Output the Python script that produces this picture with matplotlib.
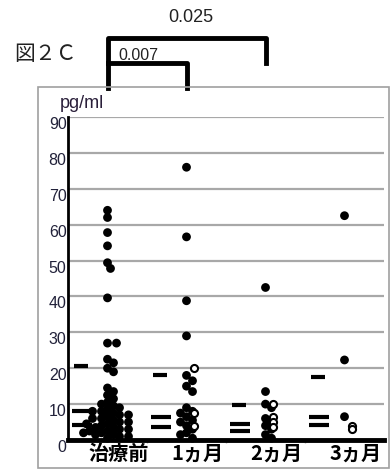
import numpy as np
import matplotlib
matplotlib.use("Agg")
import matplotlib.pyplot as plt
from matplotlib.patches import Rectangle
from matplotlib.transforms import ScaledTranslation, blended_transform_factory

plt.rcParams["font.family"] = ["Liberation Sans", "Noto Sans CJK JP", "DejaVu Sans"]

# data (pg/ml)
groups = ["治療前", "1ヵ月", "2ヵ月", "3ヵ月"]

pre_filled = [64, 62, 57.8, 54.1, 49.4, 47.8, 39.6, 27, 27, 22.5, 21.5, 20, 19,
              14.5, 13.5, 12.5, 11.5, 10.5, 10, 9.5, 9, 8.5, 8, 8, 7.5, 7, 7,
              6.5, 6, 6, 5.5, 5, 5, 4.5, 4.5, 4, 3.5, 3.5, 3, 3, 2.5, 2.5, 2, 2,
              1.5, 1.5, 1, 1, 0.5]
m1_filled = [76, 56.6, 38.8, 29, 18, 16.5, 15, 13.5, 9, 8, 7.5, 6.5, 5.5, 5,
             4, 3, 2, 1.5, 0.5]
m2_filled = [42.5, 13.5, 10, 9, 6, 5, 4, 3, 1.5, 0.5]
m3_filled = [62.5, 22.3, 6.5]

pre_open = []
m1_open = [20, 7.5, 4]
m2_open = [10, 6.5, 5, 3.5]
m3_open = [4, 3]

# horizontal bars drawn left of each group
bar_upper = [20.7, 18, 9.7, 17.6]
bar_mid = [8.2, 6.3, 4.5, 6.5]
bar_low = [4.3, 3.5, 2.6, 4.2]

filled = [pre_filled, m1_filled, m2_filled, m3_filled]
opened = [pre_open, m1_open, m2_open, m3_open]

W, H = 390, 470
fig = plt.figure(figsize=(W / 100, H / 100), dpi=100)
ax_l, ax_r, ax_t, ax_b = 68, 384, 117, 440
ax = fig.add_axes([ax_l / W, 1 - ax_b / H, (ax_r - ax_l) / W, (ax_b - ax_t) / H])
ax.set_xlim(-0.5, 3.5)
ax.set_ylim(0, 90)

px_x = (ax_r - ax_l) / 4.0
px_y = (ax_b - ax_t) / 90.0


def swarm(values, min_dist=6.2, step=3.0):
    placed = []
    offs = []
    cands = [0] + [s * i for i in range(1, 30) for s in (1, -1)]
    for v in values:
        yp = v * px_y
        for c in cands:
            xp = c * step
            if all((xp - a) ** 2 + (yp - b) ** 2 >= min_dist ** 2 for a, b in placed):
                break
        placed.append((xp, yp))
        offs.append(xp / px_x)
    return offs


for i, vals in enumerate(filled):
    offs = swarm(vals)
    ax.scatter(i + np.array(offs), vals, s=40, color="black", edgecolors="none",
               zorder=3, clip_on=False)
for i, vals in enumerate(opened):
    if vals:
        ax.scatter([i + 0.1] * len(vals), vals, s=26, facecolors="white",
                   edgecolors="black", linewidths=1.5, zorder=4, clip_on=False)

xs = np.arange(len(groups))
ax.hlines(bar_upper, xs - 0.42, xs - 0.25, colors="black", lw=3, zorder=2)
ax.hlines(bar_mid, xs - 0.45, xs - 0.2, colors="black", lw=3, zorder=2)
ax.hlines(bar_low, xs - 0.45, xs - 0.2, colors="black", lw=3, zorder=2)

# axes styling
for s in ["top", "right"]:
    ax.spines[s].set_visible(False)
ax.spines["left"].set_linewidth(2)
ax.spines["bottom"].set_linewidth(3.5)
ax.spines["bottom"].set_zorder(5)

ax.set_yticks(range(0, 91, 10))
ax.yaxis.grid(True, color="#a8a8a8", lw=1.6)
ax.set_axisbelow(True)
ax.tick_params(axis="y", length=0, pad=1, labelsize=11.5, labelcolor="#22223a")
for lab in ax.get_yticklabels():
    lab.set_transform(lab.get_transform() + ScaledTranslation(0, -0.06, fig.dpi_scale_trans))

ax.set_xticks(xs)
ax.set_xticklabels(groups, fontsize=14.5, fontweight="bold", family=["Noto Sans CJK JP"])
ax.set_xticks([0.5, 1.5, 2.5], minor=True)
ax.tick_params(axis="x", which="major", length=0, pad=2)
ax.tick_params(axis="x", which="minor", length=2.5, color="#b0b0b0", width=1)
for lab in ax.get_xticklabels():
    lab.set_transform(lab.get_transform() + ScaledTranslation(0.11, 0, fig.dpi_scale_trans))

# outer frame
fig.patches.append(Rectangle((38 / W, 2 / H), 351 / W, 381 / H, transform=fig.transFigure,
                             fill=False, edgecolor="#a0a0a0", lw=1.2))

fig.text(60 / W, 1 - 104 / H, "pg/ml", fontsize=13, va="center", color="#2a1f3a")
fig.text(14 / W, 1 - 54 / H, "図２Ｃ", fontsize=15, va="center",
         family=["Noto Sans CJK JP"], color="#222222")

# significance brackets
tr = blended_transform_factory(ax.transData, ax.transAxes)
yt = (ax_b - 38) / (ax_b - ax_t)
ym = (ax_b - 63) / (ax_b - ax_t)
yb = (ax_b - 88) / (ax_b - ax_t)
kw = dict(color="black", lw=3.5, transform=tr, clip_on=False, solid_capstyle="projecting")
ax.plot([0, 0, 2, 2], [yb, yt, yt, ym], **kw)
ax.plot([0, 1, 1], [ym, ym, yb], **kw)
fig.text(191 / W, 1 - 17 / H, "0.025", fontsize=13, ha="center", va="center", color="#222222")
fig.text(138 / W, 1 - 55 / H, "0.007", fontsize=11.5, ha="center", va="center", color="#222222")

fig.savefig("out.png", dpi=100)
